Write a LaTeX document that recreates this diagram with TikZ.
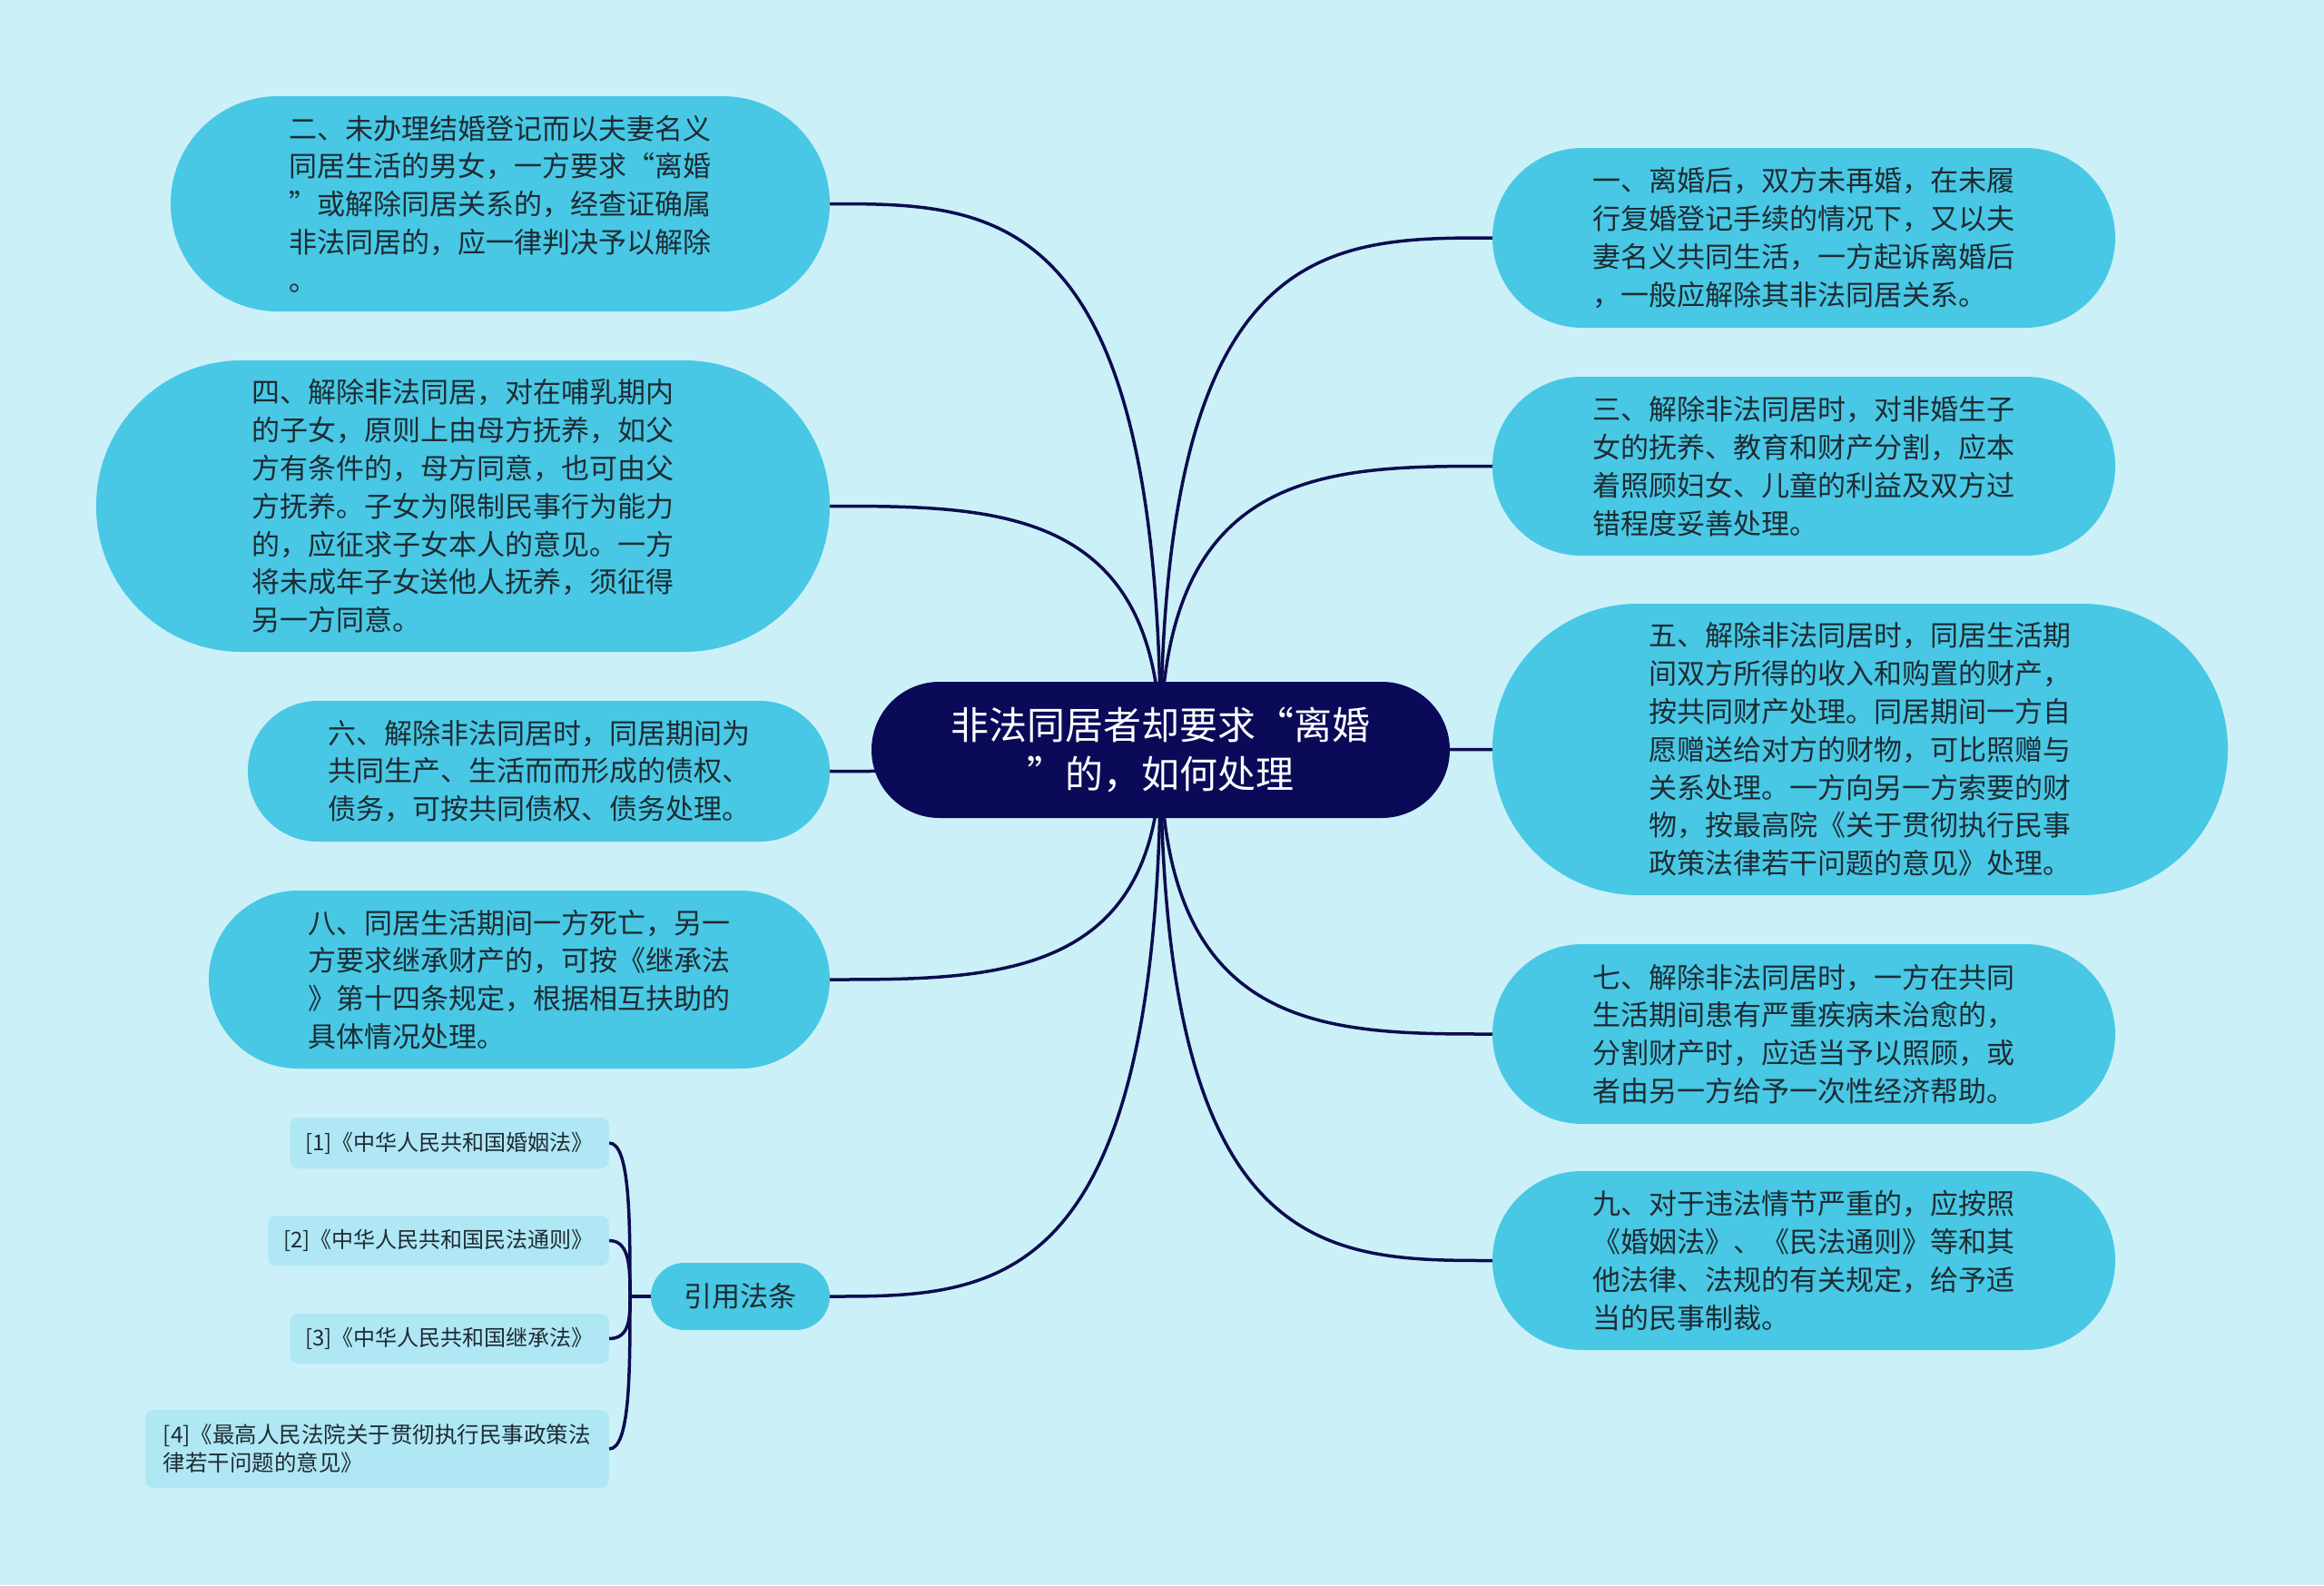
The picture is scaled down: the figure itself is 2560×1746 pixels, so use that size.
\documentclass[tikz,border=0pt]{standalone}
\usepackage{fontspec}
\setmainfont{Noto Sans CJK SC}
\usetikzlibrary{calc}
\definecolor{bgc}{HTML}{CCF0F8}
\definecolor{topicc}{HTML}{48C8E4}
\definecolor{centralc}{HTML}{0A0A58}
\definecolor{edgec}{HTML}{0C0C50}
\definecolor{refc}{HTML}{B0E7F5}
\definecolor{inkc}{HTML}{1E2B33}
\pgfdeclarelayer{back}
\pgfdeclarelayer{edgelayer}
\pgfsetlayers{back,edgelayer,main}
\begin{document}
\begin{tikzpicture}[x=1pt,y=-1pt,
  topicbox/.style={fill=topicc, draw=none, align=left, text=inkc,
    font=\fontsize{31}{41.8}\selectfont, inner sep=0pt},
  centerbox/.style={fill=centralc, draw=none, align=center, text=white,
    font=\fontsize{42}{54}\selectfont, inner sep=0pt},
  refbox/.style={fill=refc, draw=none, align=left, text=inkc,
    font=\fontsize{24}{31}\selectfont, inner xsep=17pt, inner ysep=0pt,
    rounded corners=9pt, anchor=east},
  link/.style={draw=edgec, line width=3.5pt},
]
\begin{pgfonlayer}{back}
\fill[bgc] (0,0) rectangle (2560,1746);
\end{pgfonlayer}

% central topic
\node[centerbox, minimum width=637pt, minimum height=150pt, rounded corners=75pt] (C) at (1278.5,826)
  {非法同居者却要求“离婚\\”的，如何处理};

% left topics
\node[topicbox, minimum width=726pt, minimum height=237pt, rounded corners=118pt] (L1) at (551,224.5)
  {二、未办理结婚登记而以夫妻名义\\同居生活的男女，一方要求“离婚\\”或解除同居关系的，经查证确属\\非法同居的，应一律判决予以解除\\。};
\node[topicbox, minimum width=808pt, minimum height=321pt, rounded corners=160pt] (L2) at (510,557.5)
  {四、解除非法同居，对在哺乳期内\\的子女，原则上由母方抚养，如父\\方有条件的，母方同意，也可由父\\方抚养。子女为限制民事行为能力\\的，应征求子女本人的意见。一方\\将未成年子女送他人抚养，须征得\\另一方同意。};
\node[topicbox, minimum width=641pt, minimum height=155pt, rounded corners=77pt] (L3) at (593.5,849.5)
  {六、解除非法同居时，同居期间为\\共同生产、生活而而形成的债权、\\债务，可按共同债权、债务处理。};
\node[topicbox, minimum width=684pt, minimum height=196pt, rounded corners=98pt] (L4) at (572,1079)
  {八、同居生活期间一方死亡，另一\\方要求继承财产的，可按《继承法\\》第十四条规定，根据相互扶助的\\具体情况处理。};
\node[topicbox, minimum width=197pt, minimum height=74pt, rounded corners=37pt] (L5) at (815.5,1428)
  {引用法条};

% right topics
\node[topicbox, minimum width=686pt, minimum height=198pt, rounded corners=99pt] (R1) at (1987,262)
  {一、离婚后，双方未再婚，在未履\\行复婚登记手续的情况下，又以夫\\妻名义共同生活，一方起诉离婚后\\，一般应解除其非法同居关系。};
\node[topicbox, minimum width=686pt, minimum height=197pt, rounded corners=98pt] (R2) at (1987,513.5)
  {三、解除非法同居时，对非婚生子\\女的抚养、教育和财产分割，应本\\着照顾妇女、儿童的利益及双方过\\错程度妥善处理。};
\node[topicbox, minimum width=810pt, minimum height=321pt, rounded corners=160pt] (R3) at (2049,825.5)
  {五、解除非法同居时，同居生活期\\间双方所得的收入和购置的财产，\\按共同财产处理。同居期间一方自\\愿赠送给对方的财物，可比照赠与\\关系处理。一方向另一方索要的财\\物，按最高院《关于贯彻执行民事\\政策法律若干问题的意见》处理。};
\node[topicbox, minimum width=686pt, minimum height=198pt, rounded corners=99pt] (R4) at (1987,1139)
  {七、解除非法同居时，一方在共同\\生活期间患有严重疾病未治愈的，\\分割财产时，应适当予以照顾，或\\者由另一方给予一次性经济帮助。};
\node[topicbox, minimum width=686pt, minimum height=197pt, rounded corners=98pt] (R5) at (1987,1388.5)
  {九、对于违法情节严重的，应按照\\《婚姻法》、《民法通则》等和其\\他法律、法规的有关规定，给予适\\当的民事制裁。};

% references
\node[refbox, minimum height=56pt] (F1) at (671,1259) {[1]《中华人民共和国婚姻法》};
\node[refbox, minimum height=55pt] (F2) at (671,1366.5) {[2]《中华人民共和国民法通则》};
\node[refbox, minimum height=55pt] (F3) at (671,1474.5) {[3]《中华人民共和国继承法》};
\node[refbox, minimum height=86pt, minimum width=511pt, inner xsep=12pt,
      font=\fontsize{24.5}{31}\selectfont] (F4) at (671,1596) {[4]《最高人民法院关于贯彻执行民事政策法\\律若干问题的意见》};

\coordinate (J) at (694,1428);

\begin{pgfonlayer}{edgelayer}
\foreach \n in {L1,L2,L3,L4,L5} {
  \draw[link] (C.center) .. controls (C.center |- \n.east) and ($(C.center |- \n.east)!0.5!(\n.east)$) .. (\n.east);
}
\foreach \n in {R1,R2,R3,R4,R5} {
  \draw[link] (C.center) .. controls (C.center |- \n.west) and ($(C.center |- \n.west)!0.5!(\n.west)$) .. (\n.west);
}
\foreach \n in {F1,F2,F3,F4} {
  \draw[link] (L5.west) -- (J) .. controls ($(J)!0.5!(J |- \n.east)$) and (J |- \n.east) .. (\n.east);
}
\end{pgfonlayer}
\end{tikzpicture}
\end{document}
